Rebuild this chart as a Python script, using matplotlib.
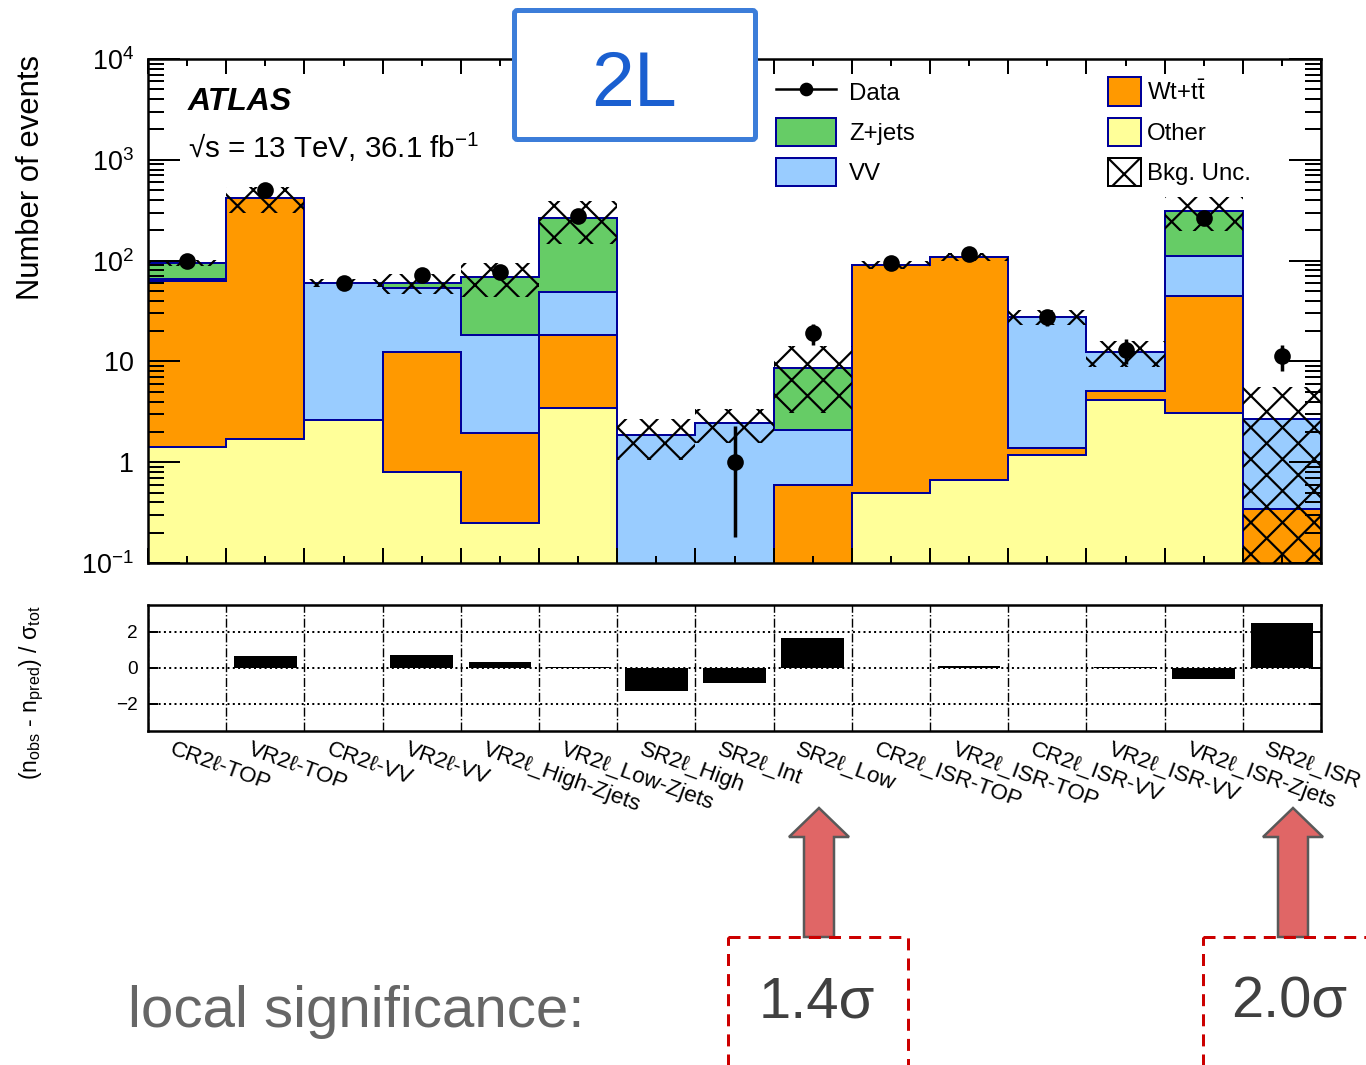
import numpy as np
import matplotlib

matplotlib.use("Agg")
import matplotlib.pyplot as plt  # noqa: E402
from matplotlib.lines import Line2D  # noqa: E402
from matplotlib.patches import FancyArrow, FancyBboxPatch, Patch, Rectangle  # noqa: E402
from matplotlib.ticker import FixedFormatter, FixedLocator, LogLocator, NullFormatter  # noqa: E402
from matplotlib.transforms import blended_transform_factory  # noqa: E402

W, H, DPI = 1366, 1065, 190


def pt(px):
    # sizes in pixels
    return px * 72.0 / DPI


plt.rcParams["font.family"] = ["Liberation Sans", "DejaVu Sans"]
plt.rcParams["mathtext.fontset"] = "custom"
plt.rcParams["mathtext.rm"] = "Liberation Sans"
plt.rcParams["mathtext.it"] = "Liberation Sans:italic"
plt.rcParams["mathtext.bf"] = "Liberation Sans:bold"
plt.rcParams["hatch.linewidth"] = pt(2.2)

# ---- data ---------------------------------------------------------------
regions = [
    "CR2ℓ-TOP", "VR2ℓ-TOP", "CR2ℓ-VV", "VR2ℓ-VV", "VR2ℓ_High-Zjets",
    "VR2ℓ_Low-Zjets", "SR2ℓ_High", "SR2ℓ_Int", "SR2ℓ_Low", "CR2ℓ_ISR-TOP",
    "VR2ℓ_ISR-TOP", "CR2ℓ_ISR-VV", "VR2ℓ_ISR-VV", "VR2ℓ_ISR-Zjets", "SR2ℓ_ISR",
]
other = [1.4, 1.7, 2.6, 0.8, 0.25, 3.45, 0, 0, 0, 0.5, 0.67, 1.18, 4.15, 3.1, 0]
wt_ttbar = [62, 415, 0, 11.6, 1.7, 14.8, 0, 0, 0.59, 89.5, 108, 0.21, 0.95, 41, 0.34]
vv = [3, 1.5, 57, 41, 16.4, 30.6, 1.86, 2.44, 1.5, 0, 0, 26.2, 7.3, 66, 2.33]
zjets = [29, 1, 0.4, 6.5, 50.5, 218, 0, 0, 6.5, 0, 0, 0, 0, 200, 0]
bkg_unc = [6, 120, 5, 13, 25, 120, 0.8, 0.9, 5.5, 8, 10, 4.5, 3.5, 115, 2.9]

data = [98, 500, 60, 72, 77, 275, 0, 1, 19.1, 94.5, 116, 27.5, 13, 262, 11.3]
data_err_lo = [9.9, 22, 7.7, 8.5, 8.8, 16.6, 0, 0.82, 4.4, 9.7, 10.8, 5.2, 3.6, 16.2, 3.3]
data_err_hi = [9.9, 22, 7.7, 8.5, 8.8, 16.6, 0, 1.27, 4.4, 9.7, 10.8, 5.2, 3.6, 16.2, 3.3]

pull = [0.0, 0.65, 0.0, 0.70, 0.31, 0.04, -1.28, -0.83, 1.67, 0.0, 0.11, 0.0, 0.04, -0.59, 2.50]

ORANGE, GREEN, BLUE, YELLOW, NAVY = "#FF9900", "#66CC66", "#99CCFF", "#FFFF99", "#000099"
FLOOR = 1e-3


def px_rect(x0, y0, x1, y1):
    return [x0 / W, 1 - y1 / H, (x1 - x0) / W, (y1 - y0) / H]


fig = plt.figure(figsize=(W / DPI, H / DPI), dpi=DPI, facecolor="white")
ax = fig.add_axes(px_rect(148, 59, 1321, 563))
ax2 = fig.add_axes(px_rect(148, 605, 1321, 731))

n = len(regions)
edges = np.arange(n + 1)
centers = edges[:-1] + 0.5

# ---- stacked backgrounds (top layer first, ROOT style) -------------------
c_other = np.array(other, float)
c_top = c_other + np.array(wt_ttbar)
c_vv = c_top + np.array(vv)
c_tot = c_vv + np.array(zjets)
for cum, col in [(c_tot, GREEN), (c_vv, BLUE), (c_top, ORANGE), (c_other, YELLOW)]:
    ax.stairs(np.maximum(cum, FLOOR), edges, baseline=FLOOR, fill=True,
              facecolor=col, edgecolor=NAVY, linewidth=pt(2), zorder=1)

unc = np.array(bkg_unc)
band_lo = np.maximum(c_tot - unc, FLOOR)
band_hi = c_tot + unc
ax.bar(centers, band_hi - band_lo, bottom=band_lo, width=1.0, fill=False,
       hatch="xx", edgecolor="k", linewidth=0, zorder=3)

d = np.array(data, float)
ax.errorbar(centers, np.where(d > 0, d, np.nan), yerr=[data_err_lo, data_err_hi],
            fmt="o", color="k", ms=pt(14), elinewidth=pt(3.5), capsize=0, zorder=5)

ax.set_yscale("log")
ax.set_xlim(0, n)
ax.set_ylim(0.1, 1e4)
ax.yaxis.set_major_locator(FixedLocator([0.1, 1, 10, 100, 1000, 10000]))
ax.yaxis.set_major_formatter(FixedFormatter(
    [r"$10^{-1}$", "1", "10", r"$10^{2}$", r"$10^{3}$", r"$10^{4}$"]))
ax.yaxis.set_minor_locator(LogLocator(base=10, subs=np.arange(2, 10), numticks=20))
ax.yaxis.set_minor_formatter(NullFormatter())
ax.xaxis.set_major_locator(FixedLocator(edges))
ax.xaxis.set_minor_locator(FixedLocator(centers))
ax.tick_params(axis="x", which="both", direction="in", top=True, bottom=True,
               labelbottom=False, width=pt(2))
ax.tick_params(axis="x", which="major", length=pt(15))
ax.tick_params(axis="x", which="minor", length=pt(7))
ax.tick_params(axis="y", which="both", direction="in", left=True, right=True, width=pt(2))
ax.tick_params(axis="y", which="major", length=pt(32), labelsize=pt(27), pad=pt(14))
ax.tick_params(axis="y", which="minor", length=pt(16))
for s in ax.spines.values():
    s.set_linewidth(pt(2.5))

fig.text(188 / W, 1 - 110 / H, "ATLAS", fontsize=pt(32), fontweight="bold",
         fontstyle="italic", va="baseline", ha="left")
fig.text(188 / W, 1 - 158 / H, "√s = 13 TeV, 36.1 fb$^{-1}$",
         fontsize=pt(29.5), va="baseline", ha="left")
fig.text(31 / W, 1 - 55 / H, "Number of events", rotation=90, ha="center",
         va="top", fontsize=pt(31))

# ---- legend -------------------------------------------------------------
h_left = [
    Line2D([], [], color="k", marker="o", ms=pt(11), lw=pt(2.5)),
    Patch(facecolor=GREEN, edgecolor=NAVY, linewidth=pt(2)),
    Patch(facecolor=BLUE, edgecolor=NAVY, linewidth=pt(2)),
]
h_right = [
    Patch(facecolor=ORANGE, edgecolor=NAVY, linewidth=pt(2)),
    Patch(facecolor=YELLOW, edgecolor=NAVY, linewidth=pt(2)),
    Patch(facecolor="white", edgecolor="k", hatch="xx", linewidth=pt(2)),
]
common = dict(frameon=False, fontsize=pt(24), handleheight=1.48, labelspacing=0.46,
              borderpad=0, borderaxespad=0, loc="upper left",
              bbox_transform=fig.transFigure)
leg1 = ax.legend(h_left, ["Data", "Z+jets", "VV"], handlelength=2.5,
                 handletextpad=0.55, bbox_to_anchor=(776 / W, 1 - 77.5 / H), **common)
ax.add_artist(leg1)
ax.legend(h_right, [r"Wt+t$\bar{\mathrm{t}}$", "Other", "Bkg. Unc."], handlelength=1.375,
          handletextpad=0.25, bbox_to_anchor=(1108 / W, 1 - 77.5 / H), **common)

# ---- pull panel -----------------------------------------------------------
ax2.bar(centers, pull, width=0.8, color="k", zorder=3)
ax2.set_xlim(0, n)
ax2.set_ylim(-3.5, 3.5)
ax2.set_yticks([-2, 0, 2])
ax2.set_xticks(edges)
ax2.tick_params(axis="x", length=0, labelbottom=False)
ax2.tick_params(axis="y", direction="in", left=True, right=True, length=pt(10),
                width=pt(2), labelsize=pt(19), pad=pt(10))
ax2.set_axisbelow(True)
ax2.grid(axis="y", color="k", linestyle=":", linewidth=pt(2))
ax2.grid(axis="x", color="k", linestyle="-.", linewidth=pt(1.4))
for s in ax2.spines.values():
    s.set_linewidth(pt(2.5))

lab_tr = blended_transform_factory(ax2.transData, ax2.transAxes)
for c, lab in zip(centers, regions):
    ax2.text(c - 0.16, -8 / 126, lab, transform=lab_tr, rotation=-20,
             rotation_mode="anchor", ha="left", va="top", fontsize=pt(22.5))
fig.text(32 / W, 1 - 605 / H,
         r"(n$_{\mathrm{obs}}$ - n$_{\mathrm{pred}}$) / σ$_{\mathrm{tot}}$",
         rotation=90, ha="center", va="top", fontsize=pt(23))

# ---- slide annotations (pixel overlay) -----------------------------------
ov = fig.add_axes([0, 0, 1, 1], zorder=10)
ov.set_xlim(0, W)
ov.set_ylim(H, 0)
ov.axis("off")
ov.patch.set_alpha(0)

ov.add_patch(FancyBboxPatch((514.5, 10.5), 241, 129, boxstyle="round,pad=0,rounding_size=3",
                            facecolor="white", edgecolor="#3C7DD9", linewidth=pt(5)))
ov.text(634, 85, "2L", color="#1A5FD0", fontsize=pt(77), ha="center", va="center")

for xc, xt, lab in [(819, 817, "1.4σ"), (1293, 1289, "2.0σ")]:
    ov.add_patch(FancyArrow(xc, 937, 0, -129, width=30, head_width=60, head_length=29,
                            length_includes_head=True, facecolor="#E06666",
                            edgecolor="#595959", linewidth=pt(2.5)))
    ov.text(xt, 1003, lab, color="#404040", fontsize=pt(58), ha="center", va="center")
for x0, w in [(728, 180), (1203, 200)]:
    ov.add_patch(Rectangle((x0, 937), w, 200, fill=False, edgecolor="#CC0000",
                           linewidth=pt(3), linestyle=(0, (4, 2.7))))
ov.text(128, 1012, "local significance:", color="#666666", fontsize=pt(58.3),
        ha="left", va="center")

fig.savefig("out.png", dpi=DPI)
